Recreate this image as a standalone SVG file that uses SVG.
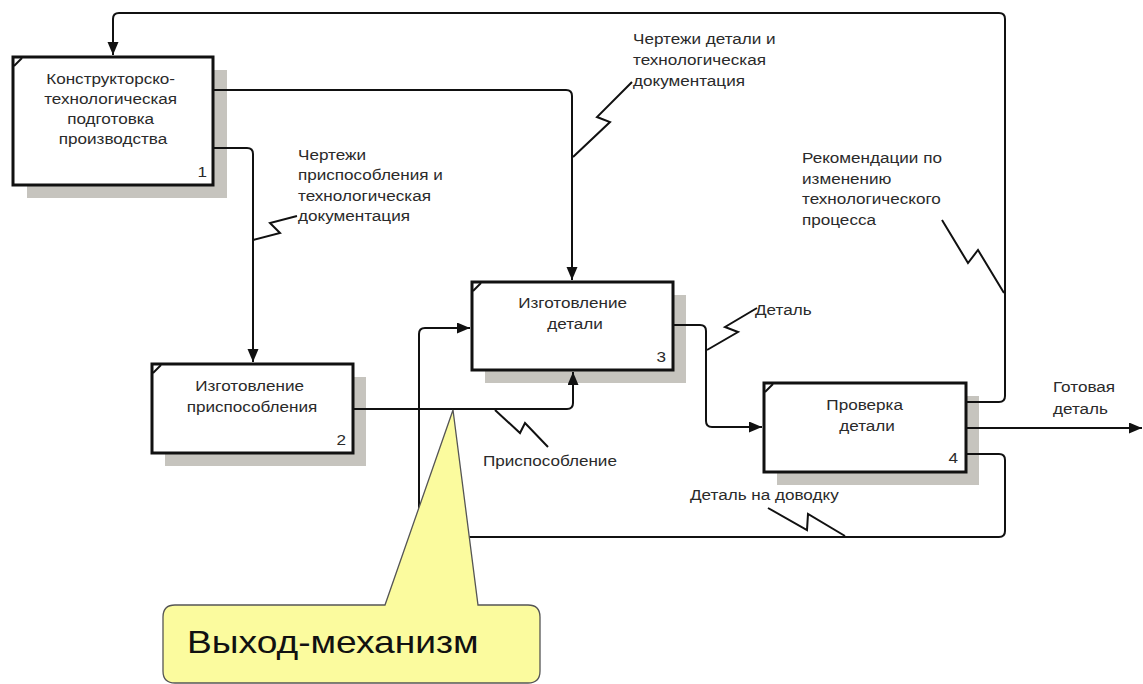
<svg xmlns="http://www.w3.org/2000/svg" width="1143" height="684" viewBox="0 0 1143 684">
  <style>
    .shadow { fill: #c6c4be; }
    .box { fill: #ffffff; stroke: #111; stroke-width: 3; }
    .tick { fill: none; stroke: #111; stroke-width: 2; }
    .txt { font-family: "Liberation Sans", Arial, sans-serif; font-size: 14.5px; fill: #2a2a2a; }
    .num { font-family: "Liberation Sans", Arial, sans-serif; font-size: 14.5px; fill: #2a2a2a; text-anchor: end; }
    .mid { text-anchor: middle; }
    .arrow { fill: none; stroke: #111; stroke-width: 2; stroke-linejoin: round; marker-end: url(#head); }
    .squig { fill: none; stroke: #111; stroke-width: 2; stroke-linejoin: miter; }
    .callout { fill: #fbfb9e; stroke: #555; stroke-width: 1.3; }
    .callout-txt { font-family: "Liberation Sans", Arial, sans-serif; font-size: 31.5px; fill: #111; }
  </style>
  <defs>
    <marker id="head" markerUnits="userSpaceOnUse" markerWidth="14" markerHeight="12" refX="13" refY="5.5" orient="auto">
      <path d="M0,0 L13,5.5 L0,11 z" fill="#111"/>
    </marker>
  </defs>

  <rect width="1143" height="684" fill="#ffffff"/>

  <!-- activity 1 -->
  <g id="node-1">
    <rect class="shadow" x="27" y="70" width="200" height="128"/>
    <rect class="box" x="13" y="57" width="200" height="128"/>
    <path class="tick" d="M14,66 L22,58"/>
    <text class="txt mid" transform="translate(113 84) scale(1.18 1)">
      <tspan x="0" y="0">Конструкторско-</tspan>
      <tspan x="0" y="20">технологическая</tspan>
      <tspan x="0" y="40">подготовка</tspan>
      <tspan x="0" y="60">производства</tspan>
    </text>
    <text class="num" transform="translate(207 177) scale(1.18 1)">1</text>
  </g>

  <!-- activity 2 -->
  <g id="node-2">
    <rect class="shadow" x="165" y="377" width="201" height="89"/>
    <rect class="box" x="152" y="364" width="201" height="89"/>
    <path class="tick" d="M153,373 L161,365"/>
    <text class="txt mid" transform="translate(252 391) scale(1.18 1)">
      <tspan x="0" y="0">Изготовление</tspan>
      <tspan x="0" y="21">приспособления</tspan>
    </text>
    <text class="num" transform="translate(346 445) scale(1.18 1)">2</text>
  </g>

  <!-- activity 3 -->
  <g id="node-3">
    <rect class="shadow" x="485" y="295" width="201" height="88"/>
    <rect class="box" x="472" y="282" width="201" height="88"/>
    <path class="tick" d="M473,291 L481,283"/>
    <text class="txt mid" transform="translate(575 308) scale(1.18 1)">
      <tspan x="0" y="0">Изготовление</tspan>
      <tspan x="0" y="21">детали</tspan>
    </text>
    <text class="num" transform="translate(666 362) scale(1.18 1)">3</text>
  </g>

  <!-- activity 4 -->
  <g id="node-4">
    <rect class="shadow" x="777" y="396" width="202" height="89"/>
    <rect class="box" x="764" y="383" width="202" height="89"/>
    <path class="tick" d="M765,392 L773,384"/>
    <text class="txt mid" transform="translate(867 410) scale(1.18 1)">
      <tspan x="0" y="0">Проверка</tspan>
      <tspan x="0" y="21">детали</tspan>
    </text>
    <text class="num" transform="translate(958 463) scale(1.18 1)">4</text>
  </g>

  <!-- connectors (drawn over the box shadows) -->
  <g id="connectors">
    <!-- feedback from 4 to control of 1 -->
    <path class="arrow" d="M966,402 H999 Q1005,402 1005,396 V19 Q1005,13 999,13 H119 Q113,13 113,19 V55"/>
    <!-- 1 -> 3 control -->
    <path class="arrow" d="M213,90 H566 Q572,90 572,96 V280"/>
    <!-- 1 -> 2 control -->
    <path class="arrow" d="M213,148 H247 Q253,148 253,154 V362"/>
    <!-- 2 -> 3 mechanism -->
    <path class="arrow" d="M353,409 H567 Q573,409 573,403 V372"/>
    <!-- 3 -> 4 input -->
    <path class="arrow" d="M673,325 H700 Q706,325 706,331 V421 Q706,427 712,427 H762"/>
    <!-- 4 final output -->
    <path class="arrow" d="M966,428 H1142"/>
    <!-- 4 rework back to 3 input -->
    <path class="arrow" d="M966,454 H999 Q1005,454 1005,460 V531 Q1005,537 999,537 H425 Q419,537 419,531 V334 Q419,328 425,328 H470"/>

    <!-- label squiggles -->
    <polyline class="squig" points="253,240 280,233 270,223 297,216"/>
    <polyline class="squig" points="573,157 610,122 597,117 632,82"/>
    <polyline class="squig" points="942,220 968,263 978,250 1004,293"/>
    <polyline class="squig" points="707,350 738,332 725,327 757,308"/>
    <polyline class="squig" points="495,410 520,433 525,423 548,447"/>
    <polyline class="squig" points="768,508 807,530 808,514 845,536"/>
  </g>

  <!-- arrow labels -->
  <g id="labels">
    <text class="txt" transform="translate(298 160) scale(1.18 1)">
      <tspan x="0" y="0">Чертежи</tspan>
      <tspan x="0" y="20.5">приспособления и</tspan>
      <tspan x="0" y="41">технологическая</tspan>
      <tspan x="0" y="61.5">документация</tspan>
    </text>
    <text class="txt" transform="translate(633 44) scale(1.18 1)">
      <tspan x="0" y="0">Чертежи детали и</tspan>
      <tspan x="0" y="21">технологическая</tspan>
      <tspan x="0" y="42">документация</tspan>
    </text>
    <text class="txt" transform="translate(802 163) scale(1.18 1)">
      <tspan x="0" y="0">Рекомендации по</tspan>
      <tspan x="0" y="20.7">изменению</tspan>
      <tspan x="0" y="41.4">технологического</tspan>
      <tspan x="0" y="62">процесса</tspan>
    </text>
    <text class="txt" transform="translate(755 315) scale(1.18 1)">Деталь</text>
    <text class="txt" transform="translate(483 466) scale(1.18 1)">Приспособление</text>
    <text class="txt" transform="translate(690 500) scale(1.18 1)">Деталь на доводку</text>
    <text class="txt" transform="translate(1053 392) scale(1.18 1)">
      <tspan x="0" y="0">Готовая</tspan>
      <tspan x="0" y="22">деталь</tspan>
    </text>
  </g>

  <!-- callout -->
  <g id="callout">
    <path class="callout" d="M175,605 H385 L453,410 L478,605 H528 Q540,605 540,617 V671 Q540,683 528,683 H175 Q163,683 163,671 V617 Q163,605 175,605 Z"/>
    <text class="callout-txt" transform="translate(187 653) scale(1.18 1)">Выход-механизм</text>
  </g>
</svg>
